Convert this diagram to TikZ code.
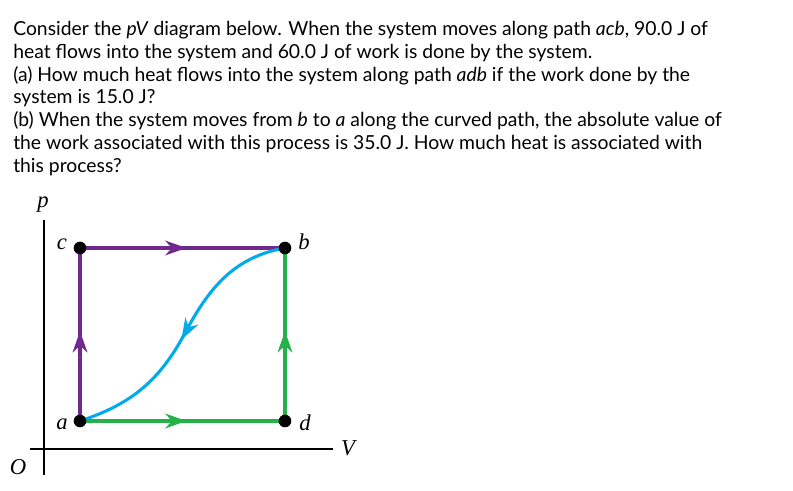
\documentclass[tikz,border=0pt]{standalone}
\usepackage{fontspec}
\setmainfont{Lato}
\newfontfamily\lblfont{Liberation Serif}
\usetikzlibrary{arrows.meta,decorations.markings}
\definecolor{pathpurple}{RGB}{112,42,142}
\definecolor{pathgreen}{RGB}{38,176,74}
\definecolor{pathblue}{RGB}{0,170,236}

\begin{document}
\begin{tikzpicture}
[
    x=0.75pt, y=-0.75pt,
    question/.style={anchor=north west, inner sep=0pt, align=left, font=\fontsize{14.5pt}{17.1pt}\selectfont},
    state/.style={circle, fill=black, inner sep=0pt, minimum size=9.5pt},
    lbl/.style={font=\lblfont\itshape\fontsize{17pt}{17pt}\selectfont, inner sep=0pt},
    axis/.style={line width=1.1pt},
    midarrow/.style={postaction={decorate, decoration={markings,
        mark=at position 0.52 with {\arrow{Stealth[length=16pt, width=11pt, inset=5pt]}}}}},
    acbline/.style={draw=pathpurple, line width=2.3pt, midarrow},
    adbline/.style={draw=pathgreen, line width=2.3pt, midarrow},
    curveline/.style={draw=pathblue, line width=2.3pt, midarrow},
]
\useasboundingbox (0,0) rectangle (793,491);

% problem text
\node [question] (txt) at (13,21)
{Consider the \textit{pV} diagram below. When the system moves along path \textit{acb}, 90.0 J of\\
heat flows into the system and 60.0 J of work is done by the system.\\
(a) How much heat flows into the system along path \textit{adb} if the work done by the\\
system is 15.0 J?\\
(b) When the system moves from \textit{b} to \textit{a} along the curved path, the absolute value of\\
the work associated with this process is 35.0 J. How much heat is associated with\\
this process?};

% axes
\coordinate (origin) at (44,449);
\coordinate (xend) at (333,449);
\coordinate (xstart) at (30,449);
\coordinate (ytop) at (44,220);
\coordinate (ybot) at (44,475);
\draw [axis] (xstart) -- (xend);
\draw [axis] (ytop) -- (ybot);
\node [lbl] (plbl) at (43,205) {p};
\node [lbl] (vlbl) at (348,448) {V};
\node [lbl] (olbl) at (18,467) {O};

% states
\coordinate (a) at (80,421);
\coordinate (c) at (80,248);
\coordinate (b) at (285,248);
\coordinate (d) at (285,421);
\coordinate (bend) at (185,333);

\path [acbline] (a) -- (c);
\path [acbline] (c) -- (b);
\path [adbline] (a) -- (d);
\path [adbline] (d) -- (b);
\path [curveline] (b) to[out=190, in=62] (bend) to[out=242, in=18] (a);

\node [state] (na) at (a) {};
\node [state] (nb) at (b) {};
\node [state] (nc) at (c) {};
\node [state] (nd) at (d) {};

\node [lbl] (alab) at (62,424) {a};
\node [lbl] (blab) at (304,242) {b};
\node [lbl] (clab) at (62,244) {c};
\node [lbl] (dlab) at (305,423) {d};
\end{tikzpicture}
\end{document}
